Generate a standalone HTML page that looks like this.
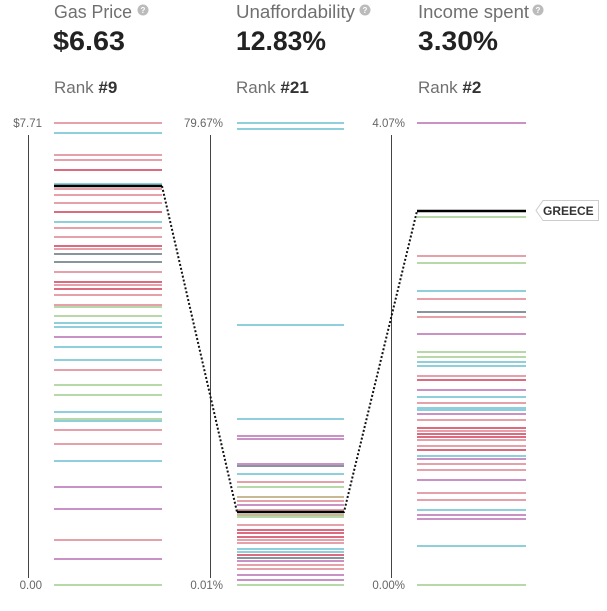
<!DOCTYPE html>
<html><head><meta charset="utf-8"><style>
body{margin:0;background:#fff;font-family:"Liberation Sans",sans-serif;}
svg{display:block}
</style></head><body>
<svg id="s" width="607" height="611" xmlns="http://www.w3.org/2000/svg">
<g font-family="Liberation Sans, sans-serif">
<text x="54" y="18" font-size="18.5" fill="#707070" textLength="78" lengthAdjust="spacingAndGlyphs">Gas Price</text>
<text x="236" y="18" font-size="18.5" fill="#707070" textLength="119" lengthAdjust="spacingAndGlyphs">Unaffordability</text>
<text x="418" y="18" font-size="18.5" fill="#707070" textLength="111" lengthAdjust="spacingAndGlyphs">Income spent</text>
<g fill="#bbb"><circle cx="143" cy="10" r="5.5"/><circle cx="365" cy="10" r="5.5"/><circle cx="538" cy="10" r="5.5"/></g>
<g fill="#fff" font-size="8" font-weight="bold" text-anchor="middle"><text x="143" y="13">?</text><text x="365" y="13">?</text><text x="538" y="13">?</text></g>
<text x="53" y="50" font-size="27" font-weight="bold" fill="#222" textLength="72" lengthAdjust="spacingAndGlyphs">$6.63</text>
<text x="236" y="50" font-size="27" font-weight="bold" fill="#222" textLength="90" lengthAdjust="spacingAndGlyphs">12.83%</text>
<text x="418" y="50" font-size="27" font-weight="bold" fill="#222" textLength="80" lengthAdjust="spacingAndGlyphs">3.30%</text>
<text x="54" y="93" font-size="17" fill="#707070">Rank <tspan font-weight="bold" fill="#333">#9</tspan></text>
<text x="236" y="93" font-size="17" fill="#707070">Rank <tspan font-weight="bold" fill="#333">#21</tspan></text>
<text x="418" y="93" font-size="17" fill="#707070">Rank <tspan font-weight="bold" fill="#333">#2</tspan></text>
<g font-size="11.5" fill="#666" text-anchor="end">
<text x="42" y="127">$7.71</text><text x="223" y="127">79.67%</text><text x="405" y="127">4.07%</text>
<text x="42" y="589">0.00</text><text x="223" y="589">0.01%</text><text x="405" y="589">0.00%</text>
</g>
<g stroke="#444" stroke-width="1"><line x1="28.5" y1="135" x2="28.5" y2="578"/><line x1="210.5" y1="135" x2="210.5" y2="578"/><line x1="391.5" y1="135" x2="391.5" y2="578"/></g>
<g id="lines" stroke-width="2"></g>
<polyline points="162,186 237,512 344,512 417,211" fill="none" stroke="#111" stroke-width="2" stroke-dasharray="2,2"/>
<line x1="54" y1="186" x2="162" y2="186" stroke="#000" stroke-width="2.5"/>
<line x1="237" y1="512" x2="344" y2="512" stroke="#000" stroke-width="2.5"/>
<line x1="417" y1="211" x2="526" y2="211" stroke="#000" stroke-width="2.5"/>
<path d="M543,200.5 H598.5 V220.5 H543 L536,210.5 Z" fill="#fff" stroke="#ccc"/>
<text x="543" y="215" font-size="12" font-weight="bold" fill="#333">GREECE</text>
</g>
</svg>
<script>
var C={p:"#e5a0aa",b:"#8fcfdc",r:"#dd6b7f",g:"#b7d8a8",u:"#c991c6",k:"#8a949c",t:"#c8b894"};
var cols=[[54,162,"123p 133b 155p 160p 170r 184b 189p 195p 203p 212r 222b 228p 237p 246r 249p 254k 262k 272p 282r 285p 289r 295p 305p 307g 316g 323b 327b 337u 347b 360b 370p 385g 395g 412b 419g 421b 430p 444p 461b 487u 509u 540p 559u 585g"],
[237,344,"123b 129b 325b 419b 436u 439u 464u 466k 474b 482p 487g 497t 501p 505u 510p 515t 517g 525p 530r 533r 537r 540p 543p 549b 552b 555r 558k 561u 565p 569p 575u 580u 585g"],
[417,526,"123u 217g 256p 263g 291b 299p 312k 317p 334u 352g 357g 362b 366b 376p 380r 390u 397b 403p 408b 410b 414u 420p 428r 431p 434r 437r 440p 446p 450r 456b 459u 464p 470p 480u 493p 500p 510b 515u 519u 546b 585g"]];
var g=document.getElementById("lines"),h="";
cols.forEach(function(c){c[2].split(" ").forEach(function(t){var y=parseInt(t),k=t.slice(-1);
h+='<line x1="'+c[0]+'" x2="'+c[1]+'" y1="'+y+'" y2="'+y+'" stroke="'+C[k]+'"/>';});});
g.innerHTML=h;
</script>
</body></html>
